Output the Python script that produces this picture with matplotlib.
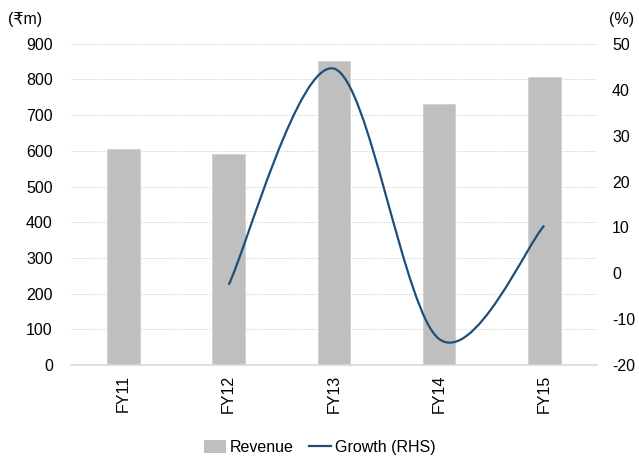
"""Revenue bars with smoothed growth line on a secondary axis."""
import matplotlib
matplotlib.use("Agg")
import matplotlib.pyplot as plt
import numpy as np
from matplotlib.lines import Line2D
from matplotlib.patches import Patch, PathPatch
from matplotlib.path import Path

plt.rcParams["font.family"] = ["Liberation Sans Narrow", "Liberation Sans", "DejaVu Sans"]
plt.rcParams["axes.unicode_minus"] = False

years = ["FY11", "FY12", "FY13", "FY14", "FY15"]
revenue = [605, 590, 853, 731, 807]
growth = [None, -2.5, 44.6, -14.3, 10.4]

BAR = "#bfbfbf"
LINE = "#1f4e79"
GRID = "#d9d9d9"

fig = plt.figure(figsize=(6.39, 4.61), dpi=100)
ax = fig.add_axes([0.111, 0.208, 0.823, 0.697])
x = np.arange(len(years))
ax.bar(x, revenue, width=0.31, color=BAR, edgecolor="#d0d0d0", linewidth=0.6, zorder=2)
ax.set_xlim(-0.5, len(years) - 0.5)
ax.set_ylim(0, 900)
ax.set_yticks(range(0, 901, 100))
ax.set_xticks(x)
ax.set_xticklabels(years, rotation=90)
for s in ["top", "right", "left"]:
    ax.spines[s].set_visible(False)
ax.spines["bottom"].set_color(GRID)
ax.spines["bottom"].set_linewidth(1.2)
ax.tick_params(axis="both", length=0, labelsize=11.5)
ax.tick_params(axis="y", pad=13)
ax.tick_params(axis="x", pad=7)
ax.grid(axis="y", color=GRID, linestyle=(0, (2, 1)), linewidth=0.6, zorder=0)

ax2 = ax.twinx()
ax2.set_ylim(-20, 50)
ax2.set_yticks(range(-20, 51, 10))
for s in ax2.spines.values():
    s.set_visible(False)
ax2.tick_params(axis="y", length=0, labelsize=11.5, pad=11)

# smoothed line, bezier segments through the growth points
pts = np.array([(i, g) for i, g in enumerate(growth) if g is not None], dtype=float)
verts = [tuple(pts[0])]
codes = [Path.MOVETO]
n = len(pts)
for i in range(n - 1):
    p0 = pts[i - 1] if i > 0 else pts[i]
    p1, p2 = pts[i], pts[i + 1]
    p3 = pts[i + 2] if i + 2 < n else pts[i + 1]
    c1 = p1 + (p2 - p0) / 6
    c2 = p2 - (p3 - p1) / 6
    verts += [tuple(c1), tuple(c2), tuple(p2)]
    codes += [Path.CURVE4] * 3
ax2.add_patch(PathPatch(Path(verts, codes), facecolor="none", edgecolor=LINE,
                        linewidth=1.6, zorder=5))

fig.text(0.012, 0.958, "(₹m)", fontsize=11.5, ha="left", va="center")
fig.text(0.993, 0.958, "(%)", fontsize=11.5, ha="right", va="center")

handles = [
    Patch(facecolor=BAR, edgecolor="none", label="Revenue"),
    Line2D([0], [0], color=LINE, linewidth=1.6, label="Growth (RHS)"),
]
fig.legend(handles=handles, loc="center", bbox_to_anchor=(0.5, 0.03), ncol=2,
           frameon=False, fontsize=11.5, handlelength=1.4, handleheight=0.9,
           handletextpad=0.2, columnspacing=1.0)

fig.savefig("out.png", dpi=100)
